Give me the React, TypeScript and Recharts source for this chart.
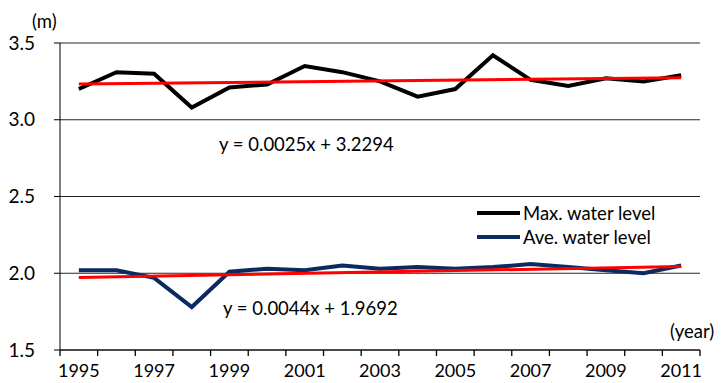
import React from 'react';
import { LineChart, Line, XAxis, YAxis, CartesianGrid } from 'recharts';

const years = [1995, 1996, 1997, 1998, 1999, 2000, 2001, 2002, 2003, 2004, 2005, 2006, 2007, 2008, 2009, 2010, 2011];
const maxLevel = [3.2, 3.31, 3.3, 3.08, 3.21, 3.23, 3.35, 3.31, 3.25, 3.15, 3.2, 3.42, 3.26, 3.22, 3.27, 3.25, 3.29];
const aveLevel = [2.02, 2.02, 1.97, 1.78, 2.01, 2.03, 2.02, 2.05, 2.03, 2.04, 2.03, 2.04, 2.06, 2.04, 2.02, 2.0, 2.05];
// linear trend lines, only the end points are drawn
const maxTrend = [3.233, null, null, null, null, null, null, null, null, null, null, null, null, null, null, null, 3.273];
const aveTrend = [1.973, null, null, null, null, null, null, null, null, null, null, null, null, null, null, null, 2.044];

const yTicks = [1.5, 2.0, 2.5, 3.0, 3.5];
const yearLabels = [1995, 1997, 1999, 2001, 2003, 2005, 2007, 2009, 2011];
const yearBounds = [1994.5, 1995.5, 1996.5, 1997.5, 1998.5, 1999.5, 2000.5, 2001.5, 2002.5, 2003.5, 2004.5, 2005.5, 2006.5, 2007.5, 2008.5, 2009.5, 2010.5, 2011.5];

const series = [
  { key: 'max', name: 'Max. water level', color: '#000000' },
  { key: 'ave', name: 'Ave. water level', color: '#0b2a60' },
];

const maxEq = 'y = 0.0025x + 3.2294';
const aveEq = 'y = 0.0044x + 1.9692';

const data = years.map((year, i) => ({
  year,
  max: maxLevel[i],
  ave: aveLevel[i],
  maxTrend: maxTrend[i],
  aveTrend: aveTrend[i],
}));

const FONT = 'Lato, "Noto Sans", sans-serif';

const txt: React.CSSProperties = { position: 'absolute', fontFamily: FONT, fontSize: 18.5, color: '#000', lineHeight: '20px', whiteSpace: 'nowrap' };

export default function App() {
  return (
    <div style={{ position: 'absolute', left: 0, top: 0, width: 723, height: 383, background: '#fff', overflow: 'hidden' }}>
      <LineChart width={723} height={383} data={data} margin={{ top: 43, right: 23, bottom: 0, left: 0 }}>
        <CartesianGrid vertical={false} stroke="#262626" />
        <XAxis
          xAxisId={0}
          dataKey="year"
          type="number"
          domain={[1994.5, 2011.5]}
          ticks={yearBounds}
          interval={0}
          tickFormatter={() => ''}
          height={6}
          stroke="#000"
          tickLine={{ stroke: '#000', strokeWidth: 1.3 }}
          tickSize={6}
        />
        <XAxis
          xAxisId={1}
          dataKey="year"
          type="number"
          domain={[1994.5, 2011.5]}
          ticks={yearLabels}
          interval={0}
          axisLine={false}
          tickLine={false}
          height={27}
          tickSize={0}
          tickMargin={8}
          tick={{ fill: '#000', fontSize: 18, fontFamily: FONT }}
        />
        <YAxis
          domain={[1.5, 3.5]}
          ticks={yTicks}
          interval={0}
          tickFormatter={(v: number) => v.toFixed(1)}
          width={60}
          stroke="#000"
          tickSize={6}
          tickMargin={19}
          tick={{ fill: '#000', fontSize: 19, fontFamily: FONT }}
        />
        {series.map((s) => (
          <Line key={s.key} xAxisId={0} dataKey={s.key} name={s.name} stroke={s.color} strokeWidth={4} dot={false} isAnimationActive={false} />
        ))}
        <Line xAxisId={0} dataKey="maxTrend" stroke="#ff0000" strokeWidth={3} dot={false} connectNulls isAnimationActive={false} />
        <Line xAxisId={0} dataKey="aveTrend" stroke="#ff0000" strokeWidth={3} dot={false} connectNulls isAnimationActive={false} />
      </LineChart>
      <div style={{ ...txt, left: 32, top: 11 }}>(m)</div>
      <div style={{ ...txt, left: 670, top: 321 }}>(year)</div>
      <div style={{ ...txt, left: 219, top: 134 }}>{maxEq}</div>
      <div style={{ ...txt, left: 223, top: 298 }}>{aveEq}</div>
      <div style={{ position: 'absolute', left: 477, top: 201, fontFamily: FONT, fontSize: 18.5, color: '#000' }}>
        {series.map((s) => (
          <div key={s.key} style={{ display: 'flex', alignItems: 'center', height: 24 }}>
            <span style={{ display: 'inline-block', width: 43, height: 4, background: s.color, marginRight: 3 }} />
            <span>{s.name}</span>
          </div>
        ))}
      </div>
    </div>
  );
}
